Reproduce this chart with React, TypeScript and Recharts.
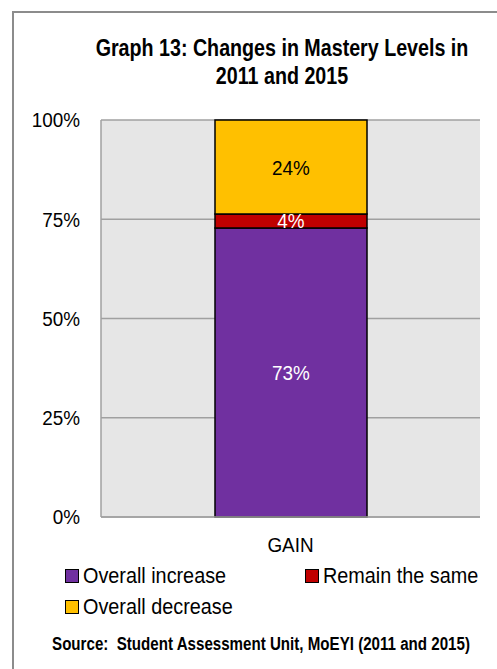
import React from 'react';
import { BarChart, Bar, XAxis, YAxis, CartesianGrid, LabelList } from 'recharts';

const categories = ['GAIN'];
const overallIncrease = [72.8];
const remainSame = [3.5];
const overallDecrease = [23.7];
const yTicks = [0, 25, 50, 75, 100];

const seriesInfo = [
  { key: 'increase', name: 'Overall increase', color: '#7030a0', label: '#ffffff' },
  { key: 'same', name: 'Remain the same', color: '#c00000', label: '#ffffff' },
  { key: 'decrease', name: 'Overall decrease', color: '#ffc000', label: '#000000' },
];

const data = categories.map((c, i) => ({
  name: c,
  increase: overallIncrease[i],
  same: remainSame[i],
  decrease: overallDecrease[i],
}));

const FONT = '"Liberation Sans", Arial, sans-serif';
const SX = 0.9;

const fmt = (v: any) => `${Math.round(Number(v))}%`;

const XTick = (props: any) => {
  const { x, y, payload } = props;
  return (
    <text transform={`translate(${x},${y}) scale(${SX},1)`} x={0} y={0} dy="0.71em" textAnchor="middle" fill="#000" fontSize={21} fontFamily={FONT}>
      {payload.value}
    </text>
  );
};

const YTick = (props: any) => {
  const { x, y, payload } = props;
  return (
    <text transform={`translate(${x},${y}) scale(${SX},1)`} x={0} y={0} dy="0.355em" textAnchor="end" fill="#000" fontSize={21} fontFamily={FONT}>
      {`${payload.value}%`}
    </text>
  );
};

const makeLabel = (color: string) => (props: any) => {
  const { x, y, width, height, value } = props;
  const cx = Number(x) + Number(width) / 2;
  const cy = Number(y) + Number(height) / 2;
  return (
    <text transform={`translate(${cx},${cy}) scale(${SX},1)`} x={0} y={0} dy="0.355em" textAnchor="middle" fill={color} fontSize={21} fontFamily={FONT}>
      {fmt(value)}
    </text>
  );
};

const LegendItem = ({ color, name, left, top }: any) => (
  <div style={{ position: 'absolute', left, top, display: 'flex', alignItems: 'center', height: 24, whiteSpace: 'nowrap' }}>
    <div style={{ width: 12, height: 12, background: color, border: '1.5px solid #000', marginRight: 4 }} />
    <span style={{ display: 'inline-block', fontFamily: FONT, fontSize: 22, color: '#000', lineHeight: '24px', transform: `scaleX(${SX})`, transformOrigin: 'left center' }}>{name}</span>
  </div>
);

export default function App() {
  return (
    <div style={{ position: 'absolute', left: 0, top: 0, width: 497, height: 669, overflow: 'hidden', background: '#fff' }}>
      <div style={{ position: 'absolute', left: 12, top: 11, width: 520, height: 720, border: '2px solid #8c8c8c', boxSizing: 'border-box' }} />
      <div style={{ position: 'absolute', left: 32, width: 500, top: 34, textAlign: 'center', fontFamily: FONT, fontWeight: 'bold', fontSize: 23, lineHeight: '28px', color: '#000', whiteSpace: 'nowrap', transform: 'scaleX(0.855)', transformOrigin: '250px 0' }}>
        Graph 13: Changes in Mastery Levels in<br />2011 and 2015
      </div>
      <div style={{ position: 'absolute', left: 0, top: 0 }}>
        <BarChart width={497} height={669} data={data} margin={{ top: 120, right: 17, bottom: 122, left: 0 }}>
          <CartesianGrid fill="#e6e6e6" vertical={false} stroke="#a0a0a0" strokeWidth={1.5} />
          <XAxis dataKey="name" height={30} axisLine={{ stroke: '#a0a0a0', strokeWidth: 1.5 }} tickLine={false} tickSize={6} tickMargin={14} tick={<XTick />} />
          <YAxis width={101} domain={[0, 100]} ticks={yTicks} axisLine={{ stroke: '#a0a0a0', strokeWidth: 1.5 }}
            tickLine={false} tickSize={6} tickMargin={15} tick={<YTick />} />
          {seriesInfo.map((s) => (
            <Bar key={s.key} dataKey={s.key} name={s.name} stackId="a" fill={s.color} stroke="#000" strokeWidth={1.5} barSize={152} isAnimationActive={false}>
              <LabelList dataKey={s.key} content={makeLabel(s.label)} />
            </Bar>
          ))}
        </BarChart>
      </div>
      <LegendItem color={seriesInfo[0].color} name={seriesInfo[0].name} left={65} top={564} />
      <LegendItem color={seriesInfo[1].color} name={seriesInfo[1].name} left={305} top={564} />
      <LegendItem color={seriesInfo[2].color} name={seriesInfo[2].name} left={65} top={595} />
      <div style={{ position: 'absolute', left: -39, width: 600, top: 632, textAlign: 'center', fontFamily: FONT, fontWeight: 'bold', fontSize: 18, lineHeight: '24px', color: '#000', whiteSpace: 'nowrap', transform: 'scaleX(0.84)', transformOrigin: '300px 0' }}>
        Source:&nbsp; Student Assessment Unit, MoEYI (2011 and 2015)
      </div>
    </div>
  );
}
